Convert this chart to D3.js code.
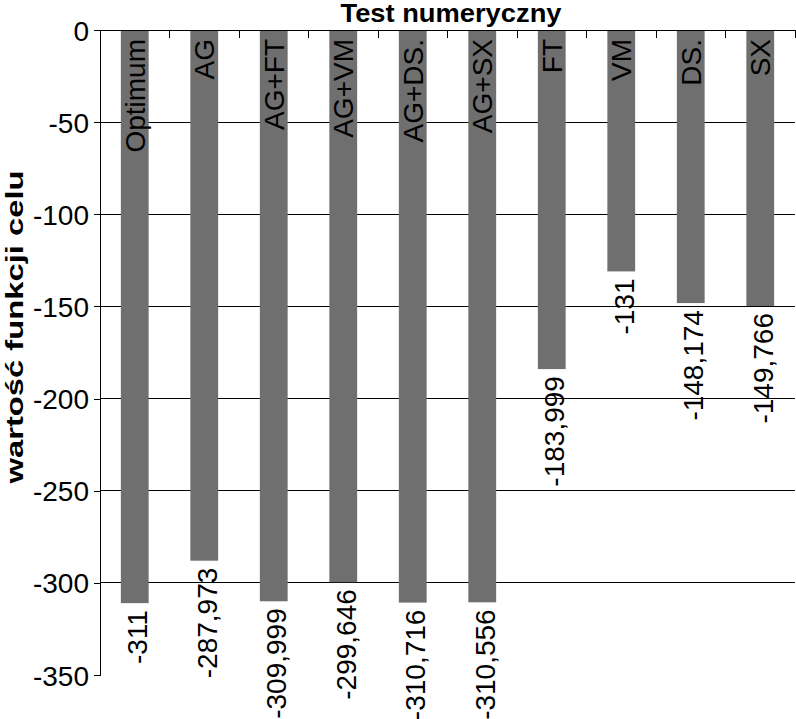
<!DOCTYPE html>
<html>
<head>
<meta charset="utf-8">
<script src="https://cdn.jsdelivr.net/npm/d3@7"></script>
<style>
  html, body { margin: 0; padding: 0; background: #fff; }
  svg { display: block; }
  text { font-family: "Liberation Sans", Arial, sans-serif; fill: #000; }
</style>
</head>
<body>
<svg id="chart" width="796" height="719"></svg>
<script>
const categories = ["Optimum", "AG", "AG+FT", "AG+VM", "AG+DS.", "AG+SX", "FT", "VM", "DS.", "SX"];
const values = [-311, -287.973, -309.999, -299.646, -310.716, -310.556, -183.999, -131, -148.174, -149.766];
const yTicks = [0, -50, -100, -150, -200, -250, -300, -350];
const chartTitle = "Test numeryczny";
const yTitle = "wartość funkcji celu";

(function () {
const mLeft = 100, mRight = 795, mTop = 30, mBottom = 675;
const svg = d3.select("#chart");

const x = d3.scaleBand().domain(categories).range([mLeft, mRight]).paddingInner(0.6).paddingOuter(0.3);
const y = d3.scaleLinear().domain([0, -350]).range([mTop, mBottom]);

const plFormat = d3.formatLocale({decimal: ",", thousands: " ", grouping: [3], currency: ["", ""], minus: "-"}).format("");

// gridlines
svg.append("g").selectAll("line").data(yTicks.filter(t => t !== 0 && t !== -350)).join("line")
  .attr("x1", mLeft).attr("x2", mRight)
  .attr("y1", d => y(d)).attr("y2", d => y(d))
  .attr("stroke", "#000").attr("stroke-width", 1).attr("shape-rendering", "crispEdges");

// bars
svg.append("g").selectAll("rect").data(categories).join("rect")
  .attr("x", d => x(d))
  .attr("width", x.bandwidth())
  .attr("y", y(0))
  .attr("height", (d, i) => y(values[i]) - y(0))
  .attr("fill", "#6f6f6f");

// top axis (zero line) with category boundary ticks
svg.append("line").attr("x1", mLeft).attr("x2", mRight).attr("y1", y(0)).attr("y2", y(0))
  .attr("stroke", "#000").attr("shape-rendering", "crispEdges");
const step = x.step();
svg.append("g").selectAll("line").data(categories).join("line")
  .attr("x1", d => x(d) - step * 0.3 + step).attr("x2", d => x(d) - step * 0.3 + step)
  .attr("y1", y(0)).attr("y2", y(0) + 8)
  .attr("stroke", "#000").attr("shape-rendering", "crispEdges");

// y axis
const yAxis = d3.axisLeft(y).tickValues(yTicks).tickSize(6).tickPadding(5).tickFormat(d => plFormat(d));
const gy = svg.append("g").attr("transform", `translate(${mLeft},0)`).call(yAxis);
gy.select(".domain").attr("stroke", "#000").attr("shape-rendering", "crispEdges");
gy.selectAll(".tick line").attr("stroke", "#000").attr("shape-rendering", "crispEdges");
gy.selectAll(".tick text").attr("font-size", 28).attr("font-family", "'Liberation Sans', Arial, sans-serif").attr("fill", "#000").attr("dy", "0.36em");

// category labels inside bars
svg.append("g").selectAll("text").data(categories).join("text")
  .attr("transform", d => `translate(${x(d) + x.bandwidth() / 2},39) rotate(-90)`)
  .attr("text-anchor", "end")
  .attr("dy", "0.36em")
  .attr("font-size", 28)
  .attr("fill", "#111")
  .text(d => d);

// value labels below bars
svg.append("g").selectAll("text").data(categories).join("text")
  .attr("transform", (d, i) => `translate(${x(d) + x.bandwidth() / 2},${y(values[i]) + 7}) rotate(-90)`)
  .attr("text-anchor", "end")
  .attr("dy", "0.45em")
  .attr("font-size", 28)
  .text((d, i) => plFormat(values[i]));

// title
svg.append("text").attr("x", 451).attr("y", 22).attr("text-anchor", "middle")
  .attr("font-size", 25).attr("font-weight", "bold")
  .attr("textLength", 221).attr("lengthAdjust", "spacingAndGlyphs")
  .text(chartTitle);

// y title
svg.append("text").attr("transform", "translate(23,327) rotate(-90)")
  .attr("text-anchor", "middle")
  .attr("font-size", 24).attr("font-weight", "bold")
  .attr("textLength", 313).attr("lengthAdjust", "spacingAndGlyphs")
  .text(yTitle);
})();
</script>
</body>
</html>
